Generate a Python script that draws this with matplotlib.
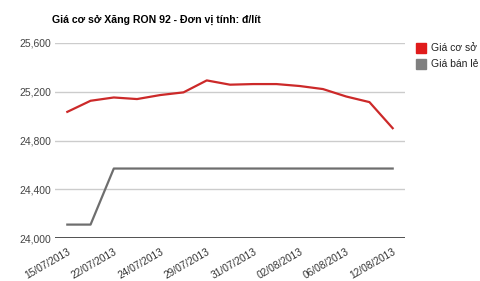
import matplotlib
matplotlib.use("Agg")
import matplotlib.pyplot as plt
from matplotlib.patches import Rectangle

plt.rcParams['font.family'] = ['Liberation Sans', 'DejaVu Sans']

dates = ["15/07/2013", "18/07/2013", "22/07/2013", "23/07/2013", "24/07/2013",
         "26/07/2013", "29/07/2013", "30/07/2013", "31/07/2013", "01/08/2013",
         "02/08/2013", "05/08/2013", "06/08/2013", "09/08/2013", "12/08/2013"]
gia_co_so = [25035, 25126, 25153, 25140, 25173, 25195, 25293, 25258,
             25263, 25263, 25247, 25222, 25161, 25115, 24901]
gia_ban_le = [24110, 24110, 24570, 24570, 24570, 24570, 24570, 24570,
              24570, 24570, 24570, 24570, 24570, 24570, 24570]
series_names = ["Giá cơ sở", "Giá bán lẻ"]
yticks = [24000, 24400, 24800, 25200, 25600]
title = "Giá cơ sở Xăng RON 92 - Đơn vị tính: đ/lít"

W, H = 480, 281
fig = plt.figure(figsize=(W / 100, H / 100), dpi=100)
ax = fig.add_axes([55 / W, 1 - 238 / H, (405 - 55) / W, (238 - 43) / H])

x = list(range(len(dates)))
xpad = 0.53
ax.set_xlim(-xpad, len(dates) - 1 + xpad)
ax.set_ylim(24000, 25600)

for yv in yticks[1:]:
    ax.axhline(yv, color="#cccccc", lw=1, zorder=1)
ax.axhline(24000, color="#333333", lw=1.2, zorder=3)

ax.plot(x, gia_ban_le, color="#6e6e6e", lw=1.6, zorder=4)
ax.plot(x, gia_co_so, color="#cc2929", lw=1.6, zorder=5)

for s in ax.spines.values():
    s.set_visible(False)
ax.set_yticks(yticks)
ax.set_yticklabels([f"{v:,}" for v in yticks], fontsize=7.5, color="#444444")
ax.tick_params(axis="both", length=0, pad=3)
ax.set_xticks(x[::2])
ax.set_xticklabels(dates[::2], rotation=30, ha="right", rotation_mode="anchor",
                   fontsize=7.3, color="#333333")
ax.tick_params(axis="x", pad=6)

fig.text(52 / W, 1 - 20 / H, title, fontsize=7.6, fontweight="bold",
         color="#000000", va="center", ha="left")

colors = ["#e01b1b", "#808080"]
for i, (name, c) in enumerate(zip(series_names, colors)):
    yc = 47.5 + i * 16.5
    fig.patches.append(Rectangle((416 / W, 1 - (yc + 5) / H), 10 / W, 10 / H,
                                 transform=fig.transFigure, color=c,
                                 figure=fig))
    fig.text(431 / W, 1 - yc / H, name, fontsize=7.5, color="#222222",
             va="center", ha="left")

fig.savefig("out.png", dpi=100)
